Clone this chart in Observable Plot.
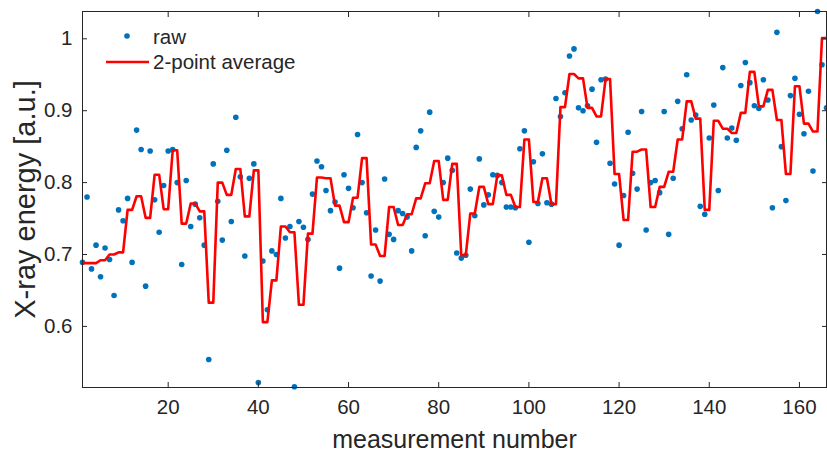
<!DOCTYPE html>
<html>
<head>
<meta charset="utf-8">
<script src="https://cdn.jsdelivr.net/npm/d3@7"></script>
<script src="https://cdn.jsdelivr.net/npm/@observablehq/plot@0.6"></script>
<style>
  html, body { margin: 0; padding: 0; background: #fff; }
  #wrap { position: relative; width: 827px; height: 453px; }
  #legend { position: absolute; left: 0; top: 0; pointer-events: none; }
</style>
</head>
<body>
<div id="wrap"></div>
<script>
// measurement numbers 1..166 and raw values
const rawValues = [
  0.689,0.780,0.680,0.713,0.669,0.709,0.693,0.643,0.762,0.747,
  0.778,0.689,0.873,0.846,0.656,0.844,0.776,0.731,0.796,0.844,
  0.846,0.800,0.686,0.803,0.739,0.770,0.751,0.713,0.554,0.826,
  0.774,0.720,0.845,0.746,0.891,0.808,0.698,0.806,0.826,0.522,
  0.691,0.623,0.705,0.700,0.778,0.723,0.739,0.516,0.746,0.738,
  0.721,0.784,0.830,0.822,0.789,0.761,0.773,0.681,0.811,0.792,
  0.765,0.867,0.800,0.758,0.670,0.734,0.663,0.805,0.728,0.721,
  0.761,0.757,0.752,0.705,0.849,0.872,0.726,0.898,0.760,0.752,
  0.800,0.834,0.817,0.702,0.695,0.699,0.791,0.754,0.833,0.769,
  0.783,0.811,0.810,0.800,0.766,0.766,0.765,0.847,0.872,0.717,
  0.829,0.771,0.840,0.772,0.770,0.917,0.892,0.925,0.976,0.986,
  0.904,0.900,0.907,0.930,0.856,0.943,0.944,0.827,0.798,0.713,
  0.782,0.870,0.813,0.791,0.899,0.734,0.800,0.803,0.786,0.899,
  0.728,0.806,0.913,0.875,0.950,0.887,0.894,0.767,0.756,0.862,
  0.908,0.789,0.960,0.862,0.876,0.859,0.935,0.967,0.939,0.907,
  0.903,0.943,0.915,0.765,1.009,0.850,0.775,0.921,0.945,0.895,
  0.868,0.927,0.816,1.038,0.964,0.904
];

const averageValues = [
  0.688,0.688, 0.688,0.688, 0.692,0.692, 0.700,0.700, 0.703,0.703,
  0.762,0.762, 0.781,0.781, 0.751,0.751, 0.811,0.811, 0.763,0.763,
  0.845,0.845, 0.743,0.743, 0.771,0.771, 0.760,0.760, 0.633,0.633,
  0.800,0.800, 0.783,0.783, 0.819,0.819, 0.753,0.753, 0.817,0.817,
  0.606,0.606, 0.664,0.664, 0.739,0.739, 0.731,0.731, 0.630,0.630,
  0.729,0.729, 0.807,0.807, 0.806,0.806, 0.768,0.768, 0.745,0.745,
  0.779,0.779, 0.834,0.834, 0.714,0.714, 0.698,0.698, 0.766,0.766,
  0.741,0.741, 0.756,0.756, 0.778,0.778, 0.799,0.799, 0.830,0.830,
  0.776,0.776, 0.826,0.826, 0.699,0.699, 0.757,0.757, 0.794,0.794,
  0.770,0.770, 0.810,0.810, 0.783,0.783, 0.766,0.766, 0.860,0.860,
  0.773,0.773, 0.806,0.806, 0.770,0.770, 0.905,0.905, 0.951,0.951,
  0.945,0.945, 0.904,0.904, 0.892,0.892, 0.944,0.944, 0.812,0.812,
  0.748,0.748, 0.843,0.843, 0.846,0.846, 0.766,0.766, 0.794,0.794,
  0.815,0.815, 0.860,0.860, 0.913,0.913, 0.889,0.889, 0.762,0.762,
  0.886,0.886, 0.875,0.875, 0.869,0.869, 0.897,0.897, 0.954,0.954,
  0.906,0.906, 0.929,0.929, 0.887,0.887, 0.812,0.812, 0.934,0.934,
  0.882,0.882, 0.871,0.871, 1.001,1.001
];

const xTicks = [20, 40, 60, 80, 100, 120, 140, 160];
const yTicks = [0.6, 0.7, 0.8, 0.9, 1];
const xDomain = [1, 166];
const yDomain = [0.515, 1.038];
const seriesNames = ["raw", "2-point average"];

const rawData = rawValues.map((v, i) => ({n: i + 1, v}));
const avgData = averageValues.map((v, i) => ({n: i + 1, v}));

const ink = "#262626";
const font = "'Liberation Sans', Arial, Helvetica, sans-serif";

const chart = Plot.plot({
  width: 827,
  height: 453,
  marginLeft: 82,
  marginRight: 1,
  marginTop: 11,
  marginBottom: 66,
  style: {fontFamily: font, fontSize: "20px", color: ink, background: "#fff", overflow: "visible"},
  x: {domain: xDomain, ticks: xTicks},
  y: {domain: yDomain, ticks: yTicks},
  marks: [
    Plot.dot(rawData, {x: "n", y: "v", r: 2.8, fill: "#0072BD", stroke: null}),
    Plot.line(avgData, {x: "n", y: "v", stroke: "#FF0000", strokeWidth: 2.6}),
    Plot.frame({stroke: ink, strokeWidth: 1}),
    // inward ticks on all four sides
    Plot.axisX(xTicks, {anchor: "bottom", tickSize: -5, text: null, label: null, stroke: ink}),
    Plot.axisX(xTicks, {anchor: "top", tickSize: -5, text: null, label: null, stroke: ink}),
    Plot.axisY(yTicks, {anchor: "left", tickSize: -5, text: null, label: null, stroke: ink}),
    Plot.axisY(yTicks, {anchor: "right", tickSize: -5, text: null, label: null, stroke: ink}),
    // tick labels
    Plot.axisX(xTicks, {anchor: "bottom", tickSize: 0, tickPadding: 12, label: null, fontSize: 20.5, fill: ink}),
    Plot.axisY(yTicks, {anchor: "left", tickSize: 0, tickPadding: 10, label: null, fontSize: 20.5, fill: ink,
      tickFormat: d => String(d)}),
    // axis titles
    Plot.axisX([], {anchor: "bottom", tickSize: 0, label: "measurement number", labelAnchor: "center",
      labelArrow: "none", labelOffset: 60, fontSize: 25, fill: ink}),
    Plot.axisY([], {anchor: "left", tickSize: 0, label: "X-ray energy [a.u.]", labelAnchor: "center",
      labelArrow: "none", labelOffset: 68, fontSize: 29, fill: ink})
  ]
});

const wrap = document.getElementById("wrap");
wrap.appendChild(chart);

// legend (inside the axes, top-left, no box)
const ns = "http://www.w3.org/2000/svg";
const leg = document.createElementNS(ns, "svg");
leg.setAttribute("id", "legend");
leg.setAttribute("width", 827);
leg.setAttribute("height", 453);
leg.setAttribute("font-family", font);
leg.setAttribute("font-size", "20.5");
const dot = document.createElementNS(ns, "circle");
dot.setAttribute("cx", 127); dot.setAttribute("cy", 36); dot.setAttribute("r", 2.8);
dot.setAttribute("fill", "#0072BD");
leg.appendChild(dot);
const ln = document.createElementNS(ns, "line");
ln.setAttribute("x1", 106); ln.setAttribute("x2", 149); ln.setAttribute("y1", 62); ln.setAttribute("y2", 62);
ln.setAttribute("stroke", "#FF0000"); ln.setAttribute("stroke-width", 2.6);
leg.appendChild(ln);
[[seriesNames[0], 37], [seriesNames[1], 62]].forEach(([t, y]) => {
  const tx = document.createElementNS(ns, "text");
  tx.setAttribute("x", 153); tx.setAttribute("y", y);
  tx.setAttribute("dy", "0.35em");
  tx.setAttribute("fill", ink);
  tx.textContent = t;
  leg.appendChild(tx);
});
wrap.appendChild(leg);
</script>
</body>
</html>
